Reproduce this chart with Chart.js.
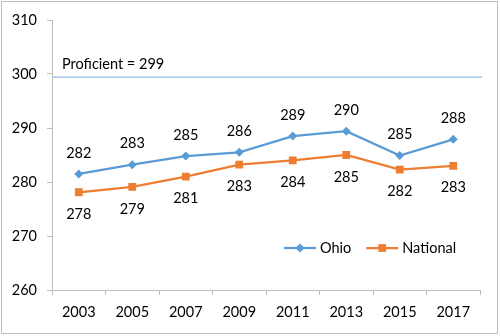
<!DOCTYPE html>
<html>
<head>
<meta charset="utf-8">
<script src="https://cdn.jsdelivr.net/npm/chart.js@4"></script>
<style>
  body { margin: 0; background: #fff; }
</style>
</head>
<body>
<canvas id="myChart" width="500" height="336"></canvas>
<script>
const years = ["2003", "2005", "2007", "2009", "2011", "2013", "2015", "2017"];
const ohio = [281.5, 283.2, 284.8, 285.5, 288.5, 289.4, 284.9, 287.9];
const ohioLabels = [282, 283, 285, 286, 289, 290, 285, 288];
const national = [278.1, 279.1, 281, 283.2, 284, 285, 282.3, 283];
const nationalLabels = [278, 279, 281, 283, 284, 285, 282, 283];
const proficient = 299.4;
const proficientText = "Proficient = 299";

const FONT = "Lato, 'Open Sans', sans-serif";
const FSIZE = 14.5;

// border, proficient line, value labels and legend
const extras = {
    id: "extras",
    beforeDraw(chart) {
        const ctx = chart.ctx;
        ctx.save();
        ctx.fillStyle = "#fff";
        ctx.fillRect(0, 0, chart.width, chart.height);
        ctx.strokeStyle = "#bfbfbf";
        ctx.lineWidth = 1;
        ctx.strokeRect(1.5, 1.5, 496, 332);
        ctx.restore();
    },
    afterDatasetsDraw(chart) {
        const ctx = chart.ctx;
        const area = chart.chartArea;
        const y = chart.scales.y.getPixelForValue(proficient);
        ctx.save();
        ctx.strokeStyle = "#95b9e0";
        ctx.lineWidth = 1.25;
        ctx.beginPath();
        ctx.moveTo(area.left, y);
        ctx.lineTo(area.right + 2, y);
        ctx.stroke();

        ctx.fillStyle = "#000";
        ctx.font = FSIZE + "px " + FONT;
        ctx.textBaseline = "middle";
        ctx.textAlign = "left";
        ctx.fillText(proficientText, area.left + 10, y - 12.5);

        // data labels
        ctx.textAlign = "center";
        const sets = [
            { idx: 0, labels: ohioLabels, dy: -21 },
            { idx: 1, labels: nationalLabels, dy: 22 },
        ];
        sets.forEach((s) => {
            const meta = chart.getDatasetMeta(s.idx);
            meta.data.forEach((pt, i) => {
                ctx.fillText(String(s.labels[i]), pt.x, pt.y + s.dy);
            });
        });

        // legend inside plot
        const ly = 248;
        let lx = 284;
        chart.data.datasets.forEach((ds) => {
            ctx.strokeStyle = ds.borderColor;
            ctx.lineWidth = ds.borderWidth;
            ctx.beginPath();
            ctx.moveTo(lx, ly);
            ctx.lineTo(lx + 32, ly);
            ctx.stroke();
            ctx.fillStyle = ds.pointBackgroundColor;
            Chart.helpers.drawPoint(ctx, {
                pointStyle: ds.pointStyle,
                radius: ds.pointRadius,
                borderWidth: 0,
                rotation: 0,
            }, lx + 16, ly);
            ctx.fillStyle = "#000";
            ctx.textAlign = "left";
            ctx.fillText(ds.label, lx + 36, ly);
            lx += 36 + ctx.measureText(ds.label).width + 15;
        });
        ctx.restore();
    },
};

const ctx = document.getElementById("myChart");
const myChart = new Chart(ctx, {
    type: "line",
    data: {
        labels: years,
        datasets: [
            {
                label: "Ohio",
                data: ohio,
                borderColor: "#5b9bd5",
                backgroundColor: "#5b9bd5",
                pointBackgroundColor: "#5b9bd5",
                pointBorderWidth: 0,
                borderWidth: 2.25,
                pointStyle: "rectRot",
                pointRadius: 4.5,
                tension: 0,
            },
            {
                label: "National",
                data: national,
                borderColor: "#ed7d31",
                backgroundColor: "#ed7d31",
                pointBackgroundColor: "#ed7d31",
                pointBorderWidth: 0,
                borderWidth: 2.25,
                pointStyle: "rect",
                pointRadius: 5.5,
                tension: 0,
            },
        ],
    },
    options: {
        responsive: false,
        animation: false,
        layout: { padding: { left: 0, top: 20, right: 20, bottom: 0 } },
        plugins: {
            legend: { display: false },
            tooltip: { enabled: false },
        },
        scales: {
            x: {
                offset: true,
                grid: {
                    offset: true,
                    drawOnChartArea: false,
                    tickLength: 5,
                    color: "#bfbfbf",
                },
                border: { color: "#bfbfbf" },
                ticks: {
                    color: "#000",
                    font: { family: FONT, size: FSIZE },
                    padding: 9,
                    maxRotation: 0,
                },
                afterFit(scale) {
                    scale.height = 46;
                },
            },
            y: {
                min: 260,
                max: 310,
                grid: {
                    drawOnChartArea: false,
                    tickLength: 5,
                    color: "#bfbfbf",
                },
                border: { color: "#bfbfbf" },
                ticks: {
                    stepSize: 10,
                    color: "#000",
                    font: { family: FONT, size: FSIZE },
                    padding: 10,
                },
                afterFit(scale) {
                    scale.width = 52;
                },
            },
        },
    },
    plugins: [extras],
});
</script>
</body>
</html>
